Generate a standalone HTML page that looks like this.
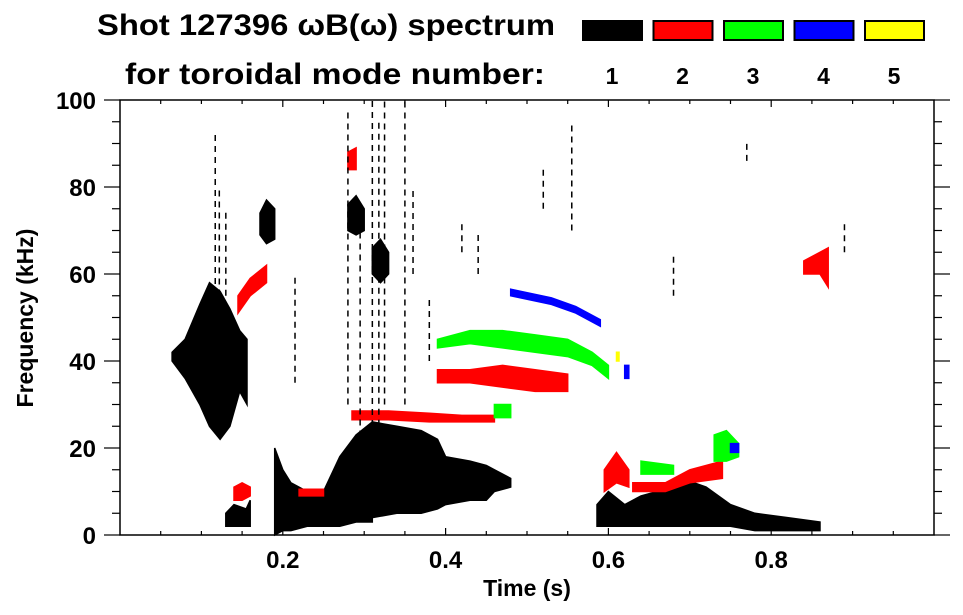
<!DOCTYPE html>
<html><head><meta charset="utf-8"><style>
html,body{margin:0;padding:0;background:#fff;}
svg{display:block;font-family:"Liberation Sans",Arial,sans-serif;font-weight:bold;}
</style></head><body>
<svg id="chart" width="963" height="615" viewBox="0 0 963 615">
<text x="97" y="35" font-size="30" textLength="458" lengthAdjust="spacingAndGlyphs">Shot 127396 ωB(ω) spectrum</text>
<text x="125" y="84" font-size="30" textLength="420" lengthAdjust="spacingAndGlyphs">for toroidal mode number:</text>
<g id="legend"></g>
<g id="marks"></g>
<g id="axes"></g>
<text x="527" y="596" font-size="23" text-anchor="middle">Time (s)</text>
<text transform="translate(33,318) rotate(-90)" font-size="23" text-anchor="middle">Frequency (kHz)</text>
</svg>
<script>
const modeLabels = ["1","2","3","4","5"];
const modeColors = ["#000000","#ff0000","#00ff00","#0000ff","#ffff00"];
const xTicks = [0.2,0.4,0.6,0.8];
const yTicks = [0,20,40,60,80,100];

// features: [mode, times, low freq, high freq]
const f1aT=[0.064,0.08,0.098,0.11,0.123,0.135,0.147,0.156];
const f1aLo=[40,36,30,25,22,25,33,30];
const f1aHi=[42,45,53,58,56,52,47,45];
const f1bT=[0.13,0.14,0.155,0.16];const f1bLo=[2,2,2,2];const f1bHi=[5,7,6,8];
const f1cT=[0.172,0.18,0.19];const f1cLo=[69,67,68];const f1cHi=[74,77,75];
const f1dT=[0.19,0.2,0.21,0.23,0.25,0.27,0.29,0.31];
const f1dLo=[0,1,1,2,2,2,3,3];
const f1dHi=[20,15,12,10,10,18,23,26];
const f1eT=[0.31,0.34,0.37,0.39,0.40,0.43,0.45,0.46,0.48];
const f1eLo=[4,5,5,6,7,8,8,10,11];
const f1eHi=[26,25,24,22,18,17,16,15,13];
const f1fT=[0.28,0.29,0.3];const f1fLo=[70,69,70];const f1fHi=[76,78,75];
const f1gT=[0.31,0.32,0.33];const f1gLo=[60,58,60];const f1gHi=[66,68,65];
const f1hT=[0.586,0.6,0.62,0.64,0.66,0.69,0.72,0.75,0.78,0.82,0.86];
const f1hLo=[2,2,2,2,2,2,2,2,1,1,1];
const f1hHi=[7,10,7,9,10,13,11,7,5,4,3];
const f2aT=[0.14,0.15,0.16];const f2aLo=[8,8,9];const f2aHi=[11,12,11];
const f2bT=[0.145,0.16,0.18];const f2bLo=[51,55,58];const f2bHi=[55,59,62];
const f2cT=[0.28,0.29];const f2cLo=[84,84];const f2cHi=[88,89];
const f2dT=[0.285,0.33,0.38,0.42,0.46];const f2dLo=[26.5,26.5,26,26,26];const f2dHi=[28.5,28.5,28,27.5,27.5];
const f2eT=[0.22,0.25];const f2eLo=[9,9];const f2eHi=[10.5,10.5];
const f2fT=[0.39,0.43,0.47,0.51,0.55];const f2fLo=[35,35,34,33,33];const f2fHi=[38,38,39,38,37];
const f2gT=[0.595,0.61,0.625];const f2gLo=[10,12,11];const f2gHi=[15,19,15];
const f2hT=[0.63,0.67,0.7,0.74];const f2hLo=[10,10,12,13];const f2hHi=[12,12,15,17];
const f2iT=[0.84,0.86,0.87];const f2iLo=[60,60,57];const f2iHi=[63,65,66];
const f3aT=[0.39,0.43,0.47,0.51,0.55,0.58,0.6];const f3aLo=[43,44,43,42,41,39,36];const f3aHi=[45,47,47,46,45,42,39];
const f3bT=[0.46,0.48];const f3bLo=[27,27];const f3bHi=[30,30];
const f3cT=[0.73,0.745,0.76];const f3cLo=[17,17,18];const f3cHi=[23,24,21];
const f3dT=[0.64,0.68];const f3dLo=[14,14];const f3dHi=[17,16];
const f4aT=[0.48,0.53,0.56,0.59];const f4aLo=[55,53,51,48];const f4aHi=[56.5,54.5,52.5,49.5];
const f4bT=[0.62,0.625];const f4bLo=[36,36];const f4bHi=[39,39];
const f4cT=[0.75,0.76];const f4cLo=[19,19];const f4cHi=[21,21];
const f5aT=[0.61,0.613];const f5aLo=[40,40];const f5aHi=[42,42];
const features=[
 [0,f1aT,f1aLo,f1aHi],[0,f1bT,f1bLo,f1bHi],[0,f1cT,f1cLo,f1cHi],[0,f1dT,f1dLo,f1dHi],
 [0,f1eT,f1eLo,f1eHi],[0,f1fT,f1fLo,f1fHi],[0,f1gT,f1gLo,f1gHi],[0,f1hT,f1hLo,f1hHi],
 [1,f2aT,f2aLo,f2aHi],[1,f2bT,f2bLo,f2bHi],[1,f2cT,f2cLo,f2cHi],[1,f2dT,f2dLo,f2dHi],
 [1,f2eT,f2eLo,f2eHi],[1,f2fT,f2fLo,f2fHi],[1,f2gT,f2gLo,f2gHi],[1,f2hT,f2hLo,f2hHi],[1,f2iT,f2iLo,f2iHi],
 [2,f3aT,f3aLo,f3aHi],[2,f3bT,f3bLo,f3bHi],[2,f3cT,f3cLo,f3cHi],[2,f3dT,f3dLo,f3dHi],
 [3,f4aT,f4aLo,f4aHi],[3,f4bT,f4bLo,f4bHi],[3,f4cT,f4cLo,f4cHi],[4,f5aT,f5aLo,f5aHi]
];
// vertical noise streaks (mode 1): time, low, high
const streakT=[0.117,0.122,0.13,0.215,0.28,0.295,0.31,0.318,0.325,0.35,0.36,0.38,0.77,0.68,0.89,0.555,0.52,0.44,0.42];
const streakLo=[40,50,55,35,30,10,20,15,30,30,60,40,86,55,65,70,75,60,65];
const streakHi=[92,80,75,60,98,70,100,95,100,100,80,55,90,65,72,95,85,70,72];

const X0=120,X1=934,Y0=535,YT=100;
const xs=t=>X0+(X1-X0)*t;
const ys=f=>Y0-(Y0-YT)*f/100;
const NS="http://www.w3.org/2000/svg";
function mk(tag,attrs,parent){const e=document.createElementNS(NS,tag);for(const k in attrs)e.setAttribute(k,attrs[k]);parent.appendChild(e);return e;}
const marks=document.getElementById('marks');
features.forEach((ft,i)=>{
  const [m,T,L,H]=ft;
  let pts=[];
  for(let j=0;j<T.length;j++)pts.push(xs(T[j]).toFixed(1)+","+ys(H[j]).toFixed(1));
  for(let j=T.length-1;j>=0;j--)pts.push(xs(T[j]).toFixed(1)+","+ys(L[j]).toFixed(1));
  const p=mk('polygon',{points:pts.join(' '),fill:modeColors[m],stroke:modeColors[m],'stroke-width':1.5},marks);
  
  
});
streakT.forEach((t,i)=>{
  const l=mk('line',{x1:xs(t),x2:xs(t),y1:ys(streakLo[i]),y2:ys(streakHi[i]),stroke:'#000','stroke-width':1.5,'stroke-dasharray':'6 5'},marks);
  
  
});
const axes=document.getElementById('axes');
const fr=mk('rect',{x:X0,y:YT,width:X1-X0,height:Y0-YT,fill:'none',stroke:'#000','stroke-width':1.5},axes);


for(let k=1;k<20;k++){const t=k*0.05,x=xs(t),major=(k%4===0);
  mk('line',{x1:x,x2:x,y1:Y0,y2:Y0-(major?7:4),stroke:'#000','stroke-width':1.2},axes);
  mk('line',{x1:x,x2:x,y1:YT,y2:YT+(major?7:4),stroke:'#000','stroke-width':1.2},axes);}
xTicks.forEach(t=>{const tx=mk('text',{x:xs(t),y:568,'font-size':24,'text-anchor':'middle'},axes);tx.textContent=String(t);
  
  });
for(let f=0;f<=100;f+=5){const y=ys(f),major=(f%20===0);
  mk('line',{x1:X0,x2:X0-(major?16:8),y1:y,y2:y,stroke:'#000','stroke-width':1.2},axes);
  mk('line',{x1:X1,x2:X1+(major?16:8),y1:y,y2:y,stroke:'#000','stroke-width':1.2},axes);}
yTicks.forEach(f=>{const tx=mk('text',{x:96,y:ys(f)+9,'font-size':24,'text-anchor':'end'},axes);tx.textContent=String(f);
  
  });
const leg=document.getElementById('legend');
modeLabels.forEach((lab,i)=>{const x=582+i*70.5;
  const r=mk('rect',{x:x+1,y:21,width:59,height:19,fill:modeColors[i],stroke:'#000','stroke-width':2},leg);
  
  
  const tx=mk('text',{x:x+30,y:84,'font-size':23,'text-anchor':'middle'},leg);tx.textContent=lab;
  
  });
</script>
</body></html>
